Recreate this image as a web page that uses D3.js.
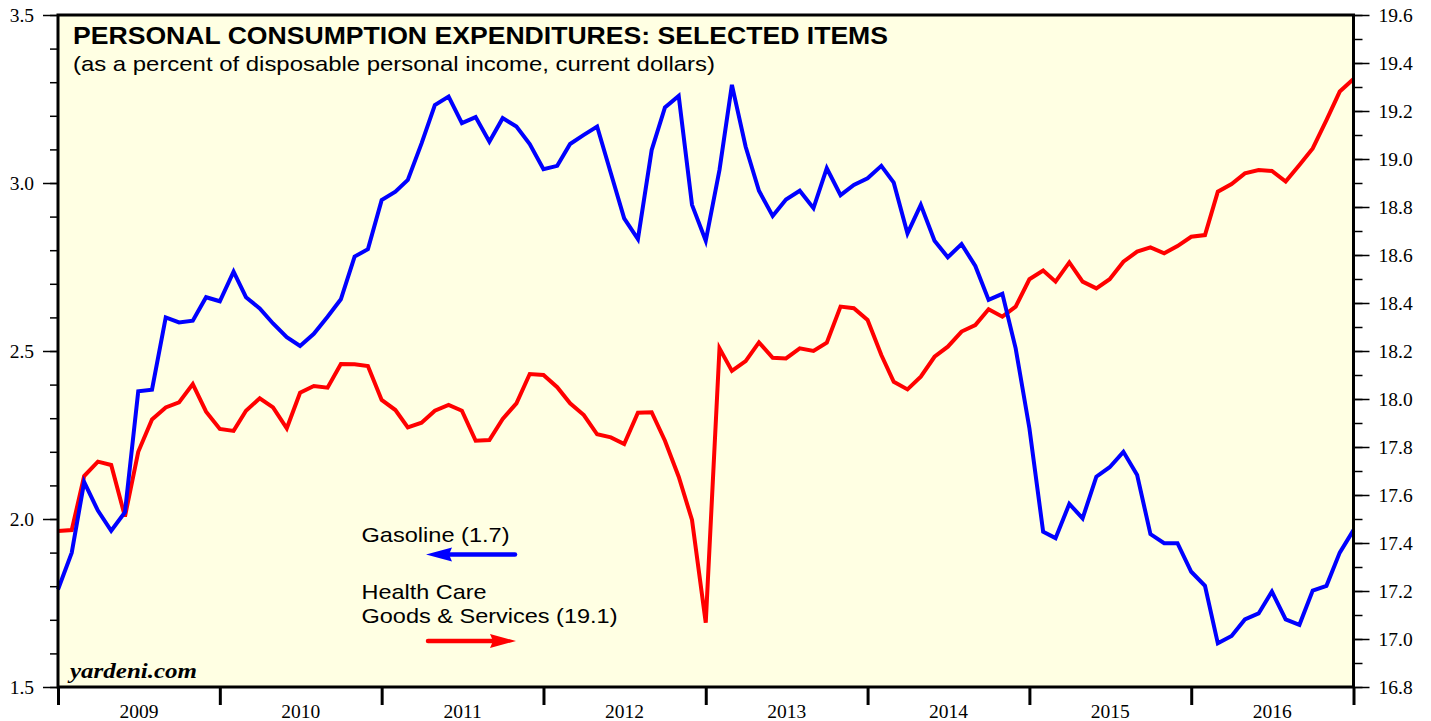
<!DOCTYPE html>
<html>
<head>
    <meta charset="utf-8">
    <title>PCE: Selected Items</title>
    <script src="https://d3js.org/d3.v7.min.js"></script>
    <style>
        body { margin: 0; background: #fff; }
        .lbl { font-family: "Liberation Serif", "Times New Roman", serif; font-size: 19.5px; fill: #000; }
        .sans { font-family: "Liberation Sans", Arial, Helvetica, sans-serif; fill: #000; }
    </style>
</head>
<body>
<svg width="1431" height="721"></svg>
<script>
    // monthly, Jan 2009 .. Jan 2017
    var startMonth = new Date(2009, 0, 1);

    // Gasoline, % of disposable personal income (left axis)
    var gasoline = [
        1.79, 1.90, 2.11, 2.025, 1.965, 2.02, 2.38, 2.385, 2.60, 2.585, 2.59, 2.66,
        2.648, 2.736, 2.66, 2.627, 2.582, 2.541, 2.515, 2.551, 2.602, 2.654, 2.781, 2.803,
        2.949, 2.974, 3.009, 3.118, 3.232, 3.257, 3.178, 3.196, 3.123, 3.193, 3.168, 3.116,
        3.041, 3.051, 3.116, 3.143, 3.168, 3.029, 2.895, 2.833, 3.098, 3.225, 3.259, 2.935,
        2.828, 3.039, 3.292, 3.108, 2.977, 2.902, 2.951, 2.977, 2.925, 3.044, 2.964, 2.994,
        3.014, 3.051, 3.001, 2.85, 2.935, 2.828, 2.779, 2.818, 2.753, 2.652, 2.670, 2.508,
        2.27, 1.962, 1.943, 2.045, 2.002, 2.126, 2.154, 2.200, 2.131, 1.955, 1.928, 1.928,
        1.843, 1.801, 1.630, 1.652, 1.701, 1.719, 1.784, 1.701, 1.685, 1.787, 1.801, 1.90,
        1.967
    ];

    // Health care goods & services (right axis)
    var healthCare = [
        17.45, 17.454, 17.679, 17.739, 17.725, 17.51, 17.78, 17.915, 17.965, 17.986, 18.062, 17.947,
        17.875, 17.867, 17.951, 18.003, 17.965, 17.878, 18.026, 18.054, 18.047, 18.146, 18.145, 18.137,
        17.996, 17.954, 17.882, 17.901, 17.951, 17.975, 17.951, 17.826, 17.829, 17.917, 17.982, 18.104,
        18.10, 18.049, 17.982, 17.933, 17.853, 17.84, 17.812, 17.943, 17.945, 17.826, 17.676, 17.496,
        17.068, 18.211, 18.117, 18.158, 18.236, 18.172, 18.169, 18.211, 18.20, 18.235, 18.385, 18.378,
        18.329, 18.183, 18.072, 18.04, 18.093, 18.176, 18.218, 18.281, 18.308, 18.374, 18.343, 18.385,
        18.499, 18.535, 18.489, 18.569, 18.489, 18.461, 18.499, 18.572, 18.614, 18.632, 18.607, 18.637,
        18.676, 18.683, 18.864, 18.896, 18.94, 18.954, 18.95, 18.906, 18.975, 19.044, 19.162, 19.281,
        19.333
    ];

    var years = [2009, 2010, 2011, 2012, 2013, 2014, 2015, 2016];
    var leftTicks = [1.5, 2.0, 2.5, 3.0, 3.5];
    var rightTicks = [16.8, 17.0, 17.2, 17.4, 17.6, 17.8, 18.0, 18.2, 18.4, 18.6, 18.8, 19.0, 19.2, 19.4, 19.6];

    var svg = d3.select("svg");
    var plot = { left: 58, top: 15, right: 1353.5, bottom: 687 };

    var x = d3.scaleTime()
        .domain([new Date(2009, 0, 1), new Date(2017, 0, 1)])
        .range([plot.left, plot.right]);
    var yL = d3.scaleLinear().domain([1.5, 3.5]).range([plot.bottom, plot.top]);
    var yR = d3.scaleLinear().domain([16.8, 19.6]).range([plot.bottom, plot.top]);

    function monthDate(i) { return d3.timeMonth.offset(startMonth, i); }

    // background
    svg.append("rect")
        .attr("x", plot.left).attr("y", plot.top)
        .attr("width", plot.right - plot.left).attr("height", plot.bottom - plot.top)
        .attr("fill", "#ffffe3");

    // left axis - minor then major
    svg.append("g")
        .attr("transform", "translate(" + plot.left + ",0)")
        .call(d3.axisLeft(yL).tickValues(d3.range(15, 36).map(function (d) { return d / 10; }))
            .tickSize(8).tickFormat(""))
        .call(function (g) { g.select(".domain").remove(); g.selectAll("line").attr("stroke-width", 1.5); });
    svg.append("g")
        .attr("transform", "translate(" + plot.left + ",0)")
        .call(d3.axisLeft(yL).tickValues(leftTicks).tickSize(15).tickPadding(9).tickFormat(d3.format(".1f")))
        .call(function (g) {
            g.select(".domain").remove();
            g.selectAll("line").attr("stroke-width", 1.5);
            g.selectAll("text").attr("class", "lbl").attr("font-family", null).attr("font-size", null);
        });

    // right axis
    svg.append("g")
        .attr("transform", "translate(" + plot.right + ",0)")
        .call(d3.axisRight(yR).tickValues(d3.range(168, 197).map(function (d) { return d / 10; }))
            .tickSize(9).tickFormat(""))
        .call(function (g) { g.select(".domain").remove(); g.selectAll("line").attr("stroke-width", 1.5); });
    svg.append("g")
        .attr("transform", "translate(" + plot.right + ",0)")
        .call(d3.axisRight(yR).tickValues(rightTicks).tickSize(16).tickPadding(9).tickFormat(d3.format(".1f")))
        .call(function (g) {
            g.select(".domain").remove();
            g.selectAll("line").attr("stroke-width", 1.5);
            g.selectAll("text").attr("class", "lbl").attr("font-family", null).attr("font-size", null);
        });

    // bottom axis: year ticks, labels centred in each year
    var yearDates = years.map(function (y) { return new Date(y, 0, 1); }).concat([new Date(2017, 0, 1)]);
    svg.append("g")
        .attr("transform", "translate(0," + plot.bottom + ")")
        .call(d3.axisBottom(x).tickValues(yearDates).tickSize(18).tickFormat(""))
        .call(function (g) { g.select(".domain").remove(); g.selectAll("line").attr("stroke-width", 3); });
    svg.append("g").selectAll("text")
        .data(years)
        .enter().append("text")
        .attr("class", "lbl")
        .attr("text-anchor", "middle")
        .attr("x", function (d) { return (x(new Date(d, 0, 1)) + x(new Date(d + 1, 0, 1))) / 2; })
        .attr("y", 718)
        .text(function (d) { return d; });

    // series
    var lineL = d3.line()
        .x(function (d, i) { return x(monthDate(i)); })
        .y(function (d) { return yL(d); });
    var lineR = d3.line()
        .x(function (d, i) { return x(monthDate(i)); })
        .y(function (d) { return yR(d); });

    svg.append("path").datum(healthCare)
        .attr("d", lineR).attr("fill", "none")
        .attr("stroke", "#ff0000").attr("stroke-width", 4).attr("stroke-linejoin", "miter");
    svg.append("path").datum(gasoline)
        .attr("d", lineL).attr("fill", "none")
        .attr("stroke", "#0000ff").attr("stroke-width", 4).attr("stroke-linejoin", "miter");

    // frame
    svg.append("rect")
        .attr("x", plot.left).attr("y", plot.top)
        .attr("width", plot.right - plot.left).attr("height", plot.bottom - plot.top)
        .attr("fill", "none").attr("stroke", "#000").attr("stroke-width", 3);

    // titles
    svg.append("text").attr("class", "sans")
        .attr("x", 73).attr("y", 43.5)
        .attr("font-size", 23.5).attr("font-weight", "bold")
        .attr("textLength", 815).attr("lengthAdjust", "spacingAndGlyphs")
        .text("PERSONAL CONSUMPTION EXPENDITURES: SELECTED ITEMS");
    svg.append("text").attr("class", "sans")
        .attr("x", 73).attr("y", 71)
        .attr("font-size", 21)
        .attr("textLength", 642).attr("lengthAdjust", "spacingAndGlyphs")
        .text("(as a percent of disposable personal income, current dollars)");

    // legend
    svg.append("text").attr("class", "sans")
        .attr("x", 361.5).attr("y", 541.5).attr("font-size", 21)
        .attr("textLength", 148).attr("lengthAdjust", "spacingAndGlyphs")
        .text("Gasoline (1.7)");
    svg.append("text").attr("class", "sans")
        .attr("x", 361.5).attr("y", 599).attr("font-size", 21)
        .attr("textLength", 125).attr("lengthAdjust", "spacingAndGlyphs")
        .text("Health Care");
    svg.append("text").attr("class", "sans")
        .attr("x", 361.5).attr("y", 622.5).attr("font-size", 21)
        .attr("textLength", 256).attr("lengthAdjust", "spacingAndGlyphs")
        .text("Goods & Services (19.1)");

    // arrows
    svg.append("line")
        .attr("x1", 445).attr("y1", 554.5).attr("x2", 515).attr("y2", 554.5)
        .attr("stroke", "#0000ff").attr("stroke-width", 4.5).attr("stroke-linecap", "round");
    svg.append("path")
        .attr("d", "M426,554.5 L452,547.5 L449,554.5 L452,561.5 Z")
        .attr("fill", "#0000ff");
    svg.append("line")
        .attr("x1", 428).attr("y1", 641).attr("x2", 497).attr("y2", 641)
        .attr("stroke", "#ff0000").attr("stroke-width", 4.5).attr("stroke-linecap", "round");
    svg.append("path")
        .attr("d", "M516,641 L490,634 L493,641 L490,648 Z")
        .attr("fill", "#ff0000");

    // source
    svg.append("text")
        .attr("x", 70).attr("y", 678)
        .attr("font-family", "'Liberation Serif', 'Times New Roman', serif")
        .attr("font-size", 22).attr("font-weight", "bold").attr("font-style", "italic")
        .attr("textLength", 127).attr("lengthAdjust", "spacingAndGlyphs")
        .text("yardeni.com");
</script>
</body>
</html>
